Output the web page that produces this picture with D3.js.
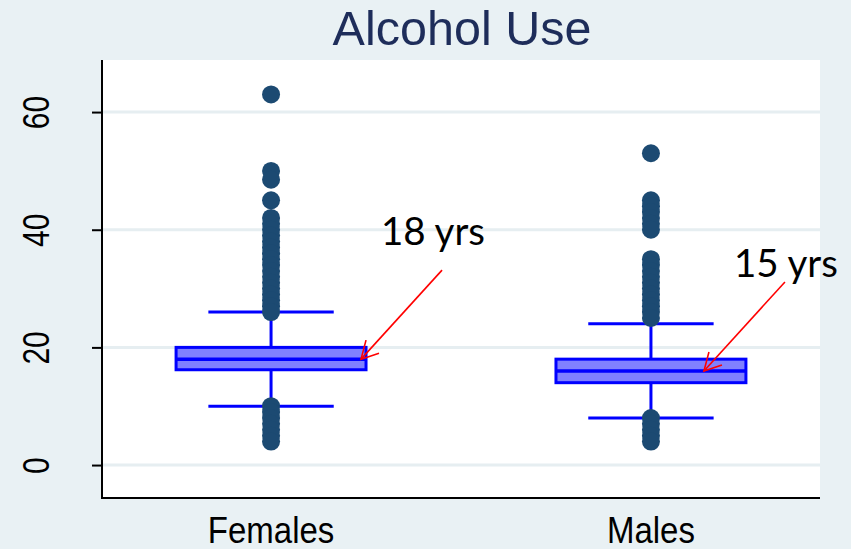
<!DOCTYPE html>
<html>
  <head>
    <script src="https://d3js.org/d3.v7.min.js"></script>
    <style>
      body { margin: 0; background: #e9f1f4; }
      svg { display: block; }
    </style>
  </head>
  <body>
    <div id="chart"></div>
    <script>
      // Box summaries (age in years)
      const groups = ["Females", "Males"];
      const q1 = [16.2, 14.0];
      const medians = [18.0, 16.0];
      const q3 = [20.0, 18.0];
      const whiskLo = [10, 8];
      const whiskHi = [26, 24];
      const outliers = [
        [63, 50, 48.5, 45, 42, 41, 40, 39, 38, 37, 36, 35, 34, 33, 32, 31, 30, 29, 28, 27, 26,
         10, 9, 8, 7, 6, 5, 4],
        [53, 45, 44, 43, 42, 41, 40, 35, 34, 33, 32, 31, 30, 29, 28, 27, 26, 25,
         8, 7, 6, 5, 4]
      ];
      const yTicks = [0, 20, 40, 60];
      const noteLabels = ["18 yrs", "15 yrs"];
      const noteValues = [18, 16];      // where the arrows point
      const noteTextValues = [37.4, 32]; // baseline of the label, in data units

      const W = 851, H = 549;
      const plot = { left: 102, right: 820, top: 60, bottom: 498 };

      const svg = d3.select("#chart").append("svg")
        .attr("width", W).attr("height", H);

      svg.append("rect").attr("width", W).attr("height", H).attr("fill", "#e9f1f4");
      svg.append("rect")
        .attr("x", plot.left).attr("y", plot.top)
        .attr("width", plot.right - plot.left).attr("height", plot.bottom - plot.top)
        .attr("fill", "#ffffff");

      const x = d3.scalePoint().domain(groups).range([plot.left, plot.right]).padding(0.445);
      const y = d3.scaleLinear().domain([-5.6, 68.85]).range([plot.bottom, plot.top]);
      const step = x.step();
      const boxW = step * 0.5;
      const capW = step * 0.33;

      // gridlines
      svg.append("g").selectAll("line").data(yTicks).join("line")
        .attr("x1", plot.left).attr("x2", plot.right)
        .attr("y1", d => y(d)).attr("y2", d => y(d))
        .attr("stroke", "#e6eef1").attr("stroke-width", 3);

      // y axis
      const yAxis = svg.append("g")
        .attr("transform", `translate(${plot.left},0)`)
        .call(d3.axisLeft(y).tickValues(yTicks).tickSize(10).tickFormat(d3.format("d")));
      yAxis.select(".domain").remove();
      yAxis.selectAll(".tick line").attr("stroke", "#000").attr("stroke-width", 2);
      yAxis.selectAll(".tick text").remove();
      yAxis.selectAll(".tick").append("text")
        .attr("transform", "translate(-53,0) rotate(-90) scale(1,1.22)")
        .attr("text-anchor", "middle")
        .attr("fill", "#000")
        .style("font-family", "'Liberation Sans', Arial, sans-serif")
        .style("font-size", "30px")
        .text(d => d);

      // axis lines
      svg.append("path")
        .attr("d", `M${plot.left},${plot.top}V${plot.bottom}H${plot.right}`)
        .attr("fill", "none").attr("stroke", "#000").attr("stroke-width", 2);

      // x labels
      svg.append("g").selectAll("text").data(groups).join("text")
        .attr("transform", d => `translate(${x(d)},543) scale(1,1.1)`)
        .attr("text-anchor", "middle")
        .style("font-family", "'Liberation Sans', Arial, sans-serif")
        .style("font-size", "33px")
        .attr("fill", "#000")
        .text(d => d);

      const boxes = groups.map((g, i) => ({
        g, q1: q1[i], med: medians[i], q3: q3[i], lo: whiskLo[i], hi: whiskHi[i], out: outliers[i]
      }));

      const bg = svg.append("g").selectAll("g").data(boxes).join("g");

      // whisker stems
      bg.append("line")
        .attr("x1", d => x(d.g)).attr("x2", d => x(d.g))
        .attr("y1", d => y(d.hi)).attr("y2", d => y(d.q3))
        .attr("stroke", "#0000ff").attr("stroke-width", 3);
      bg.append("line")
        .attr("x1", d => x(d.g)).attr("x2", d => x(d.g))
        .attr("y1", d => y(d.q1)).attr("y2", d => y(d.lo))
        .attr("stroke", "#0000ff").attr("stroke-width", 3);
      // caps
      bg.selectAll("line.cap").data(d => [d.hi, d.lo].map(v => ({ g: d.g, v }))).join("line")
        .attr("class", "cap")
        .attr("x1", d => x(d.g) - capW / 2).attr("x2", d => x(d.g) + capW / 2)
        .attr("y1", d => y(d.v)).attr("y2", d => y(d.v))
        .attr("stroke", "#0000ff").attr("stroke-width", 3);

      // outliers
      bg.selectAll("circle").data(d => d.out.map(v => ({ g: d.g, v }))).join("circle")
        .attr("cx", d => x(d.g)).attr("cy", d => y(d.v)).attr("r", 9)
        .attr("fill", "#1c4a72");

      // box
      bg.append("rect")
        .attr("x", d => x(d.g) - boxW / 2).attr("width", boxW)
        .attr("y", d => y(d.q3)).attr("height", d => y(d.q1) - y(d.q3))
        .attr("fill", "#8080ff").attr("stroke", "#0000ff").attr("stroke-width", 3);
      bg.append("line")
        .attr("x1", d => x(d.g) - boxW / 2).attr("x2", d => x(d.g) + boxW / 2)
        .attr("y1", d => y(d.med)).attr("y2", d => y(d.med))
        .attr("stroke", "#0000ff").attr("stroke-width", 3.5);

      // annotations with red arrows
      const notes = groups.map((g, i) => ({
        g, label: noteLabels[i], v: noteValues[i], tv: noteTextValues[i]
      }));
      const tipX = d => d.g === "Females" ? x(d.g) + boxW / 2 - 5 : x(d.g) + 53;
      const tipY = d => y(d.v);
      const textX = d => d.g === "Females" ? tipX(d) + 20 : tipX(d) + 30;

      const ng = svg.append("g").selectAll("g").data(notes).join("g");
      ng.append("line")
        .attr("x1", d => tipX(d) + 81).attr("y1", d => tipY(d) - 89)
        .attr("x2", tipX).attr("y2", tipY)
        .attr("stroke", "#ff0000").attr("stroke-width", 1.6);
      ng.append("path")
        .attr("d", d => {
          const tx = tipX(d), ty = tipY(d);
          return `M${tx + 5},${ty - 19}L${tx},${ty}L${tx + 18},${ty - 6}`;
        })
        .attr("fill", "none").attr("stroke", "#ff0000").attr("stroke-width", 1.6);
      ng.append("text")
        .attr("x", textX).attr("y", d => y(d.tv))
        .attr("text-anchor", "start")
        .style("font-family", "Lato, 'Open Sans', sans-serif")
        .style("font-size", "38.5px")
        .attr("fill", "#000")
        .text(d => d.label);

      // title
      svg.append("text")
        .attr("x", 462).attr("y", 45)
        .attr("text-anchor", "middle")
        .style("font-family", "'Liberation Sans', Arial, sans-serif")
        .style("font-size", "48.5px")
        .attr("fill", "#1e2d5a")
        .text("Alcohol Use");
    </script>
  </body>
</html>
